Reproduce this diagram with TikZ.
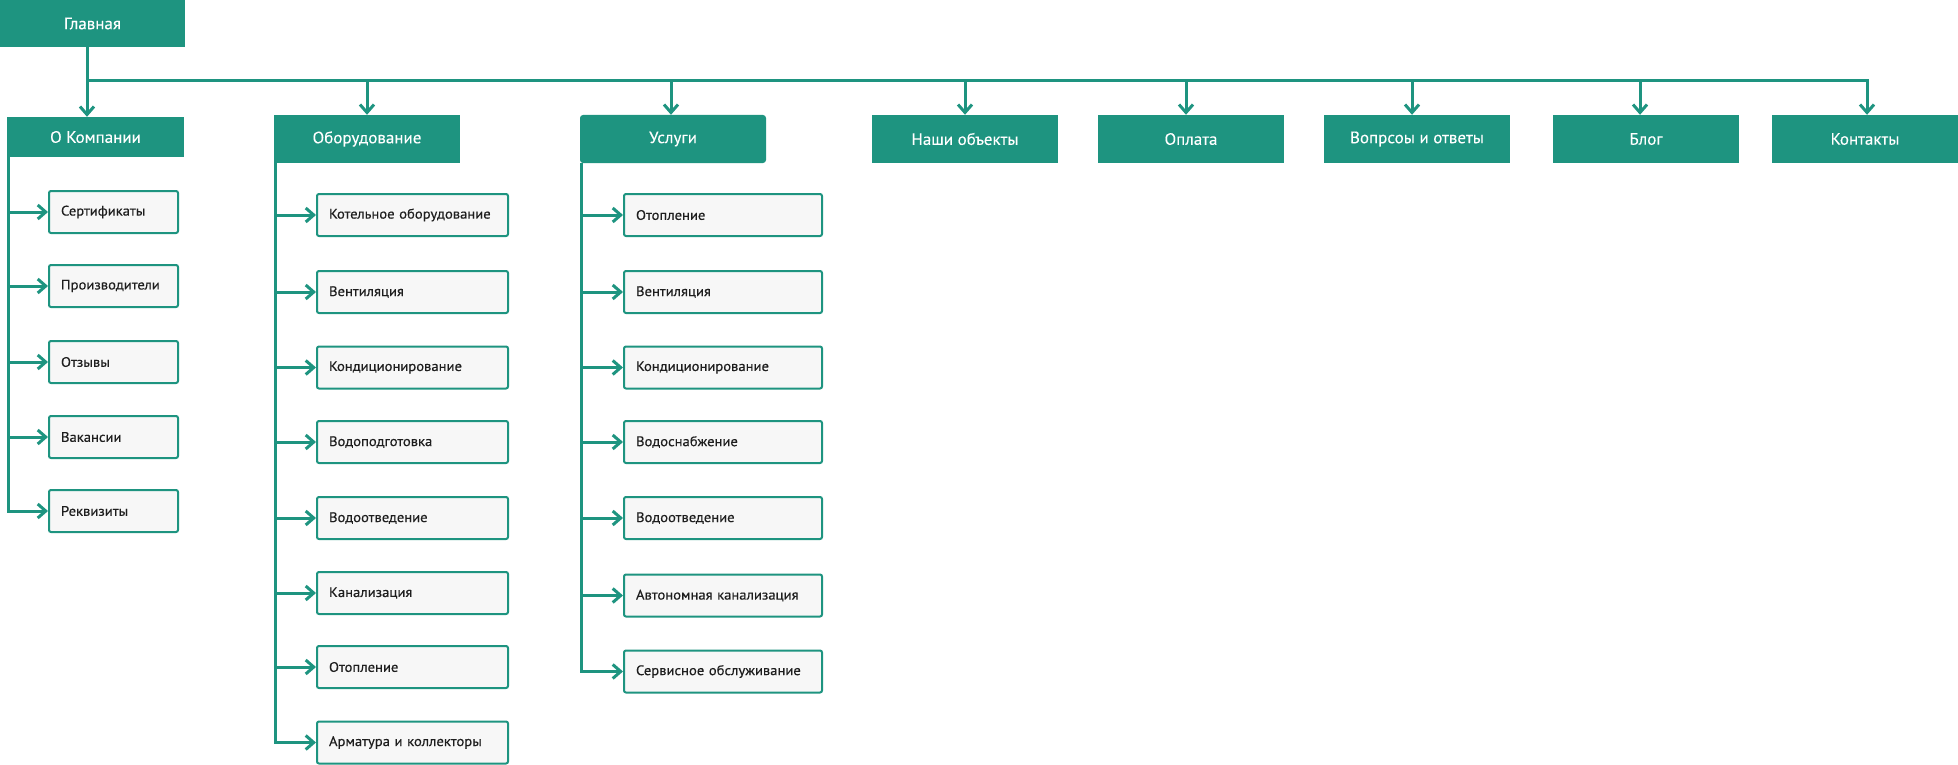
\documentclass[tikz,border=0pt]{standalone}
\usepackage{fontspec}
\setmainfont{PT Sans}
\newfontfamily\subfont[FakeStretch=1.06,FakeBold=0.4]{PT Sans}
\newfontfamily\topfont[FakeStretch=1.03,FakeBold=0.15]{PT Sans}
\usetikzlibrary{arrows.meta}
\definecolor{tealA}{RGB}{30,148,128}
\definecolor{subfill}{RGB}{247,247,247}
\definecolor{darktext}{RGB}{30,30,30}
\tikzset{
  topbox/.style={fill=tealA, text=white, minimum width=186, minimum height=48, inner sep=0,
    font=\topfont\fontsize{16.5}{19}\selectfont},
  subbox/.style={draw=tealA, line width=2, fill=subfill, rounded corners=2, minimum height=42,
    inner xsep=12, inner ysep=0, align=left, text=darktext, font=\subfont\fontsize{13.8}{16}\selectfont},
  subA/.style={subbox, text width=105},
  subB/.style={subbox, text width=167},
  subC/.style={subbox, text width=174},
  conn/.style={draw=tealA, line width=3},
  arr/.style={conn, -{Straight Barb[length=8,width=14]}},
}
\begin{document}
\begin{tikzpicture}[x=1pt,y=-1pt]
\useasboundingbox (0,0) rectangle (1958,765);
% top level
\node[topbox, minimum width=185, minimum height=47] (glav) at (92.5,23.5) {Главная};
\node[topbox, minimum width=177, minimum height=40] (komp) at (95.5,137) {О Компании};
\node[topbox] (obor) at (367,139) {Оборудование};
\node[topbox, rounded corners=3] (usl) at (673,139) {Услуги};
\node[topbox] (obj) at (965,139) {Наши объекты};
\node[topbox] (opl) at (1191,139) {Оплата};
\node[topbox] (faq) at (1417,139) {Вопрсоы и ответы};
\node[topbox] (blog) at (1646,139) {Блог};
\node[topbox] (kont) at (1865,139) {Контакты};
% hub connectors
\coordinate (hub) at (87,81);
\draw[arr] (glav.south -| hub) -- (hub |- komp.north);
\draw[arr] (hub) -| ([xshift=2]kont.north);
\draw[arr] (hub -| obor.north) -- (obor.north);
\draw[arr] ([xshift=-2]hub -| usl.north) -- ([xshift=-2]usl.north);
\draw[arr] (hub -| obj.north) -- (obj.north);
\draw[arr] ([xshift=-5]hub -| opl.north) -- ([xshift=-5]opl.north);
\draw[arr] ([xshift=-5]hub -| faq.north) -- ([xshift=-5]faq.north);
\draw[arr] ([xshift=-6]hub -| blog.north) -- ([xshift=-6]blog.north);
% О Компании children
\node[subA] (k1) at (113.5,212) {Сертификаты};
\node[subA] (k2) at (113.5,286) {Производители};
\node[subA] (k3) at (113.5,362) {Отзывы};
\node[subA] (k4) at (113.5,437) {Вакансии};
\node[subA] (k5) at (113.5,511) {Реквизиты};
\coordinate (kv) at ([xshift=1.5]komp.south west);
\draw[arr] (kv) |- (k5.west);
\foreach \n in {k1,k2,k3,k4}{\draw[arr] (kv |- \n.west) -- (\n.west);}
% Оборудование children
\node[subB] (o1) at (412.5,215) {Котельное оборудование};
\node[subB] (o2) at (412.5,292) {Вентиляция};
\node[subB] (o3) at (412.5,367.5) {Кондиционирование};
\node[subB] (o4) at (412.5,442) {Водоподготовка};
\node[subB] (o5) at (412.5,518) {Водоотведение};
\node[subB] (o6) at (412.5,593) {Канализация};
\node[subB] (o7) at (412.5,667) {Отопление};
\node[subB] (o8) at (412.5,742.5) {Арматура и коллекторы};
\coordinate (ov) at ([xshift=1.5]obor.south west);
\draw[arr] (ov) |- (o8.west);
\foreach \n in {o1,o2,o3,o4,o5,o6,o7}{\draw[arr] (ov |- \n.west) -- (\n.west);}
% Услуги children
\node[subC] (u1) at (723,215) {Отопление};
\node[subC] (u2) at (723,292) {Вентиляция};
\node[subC] (u3) at (723,367.5) {Кондиционирование};
\node[subC] (u4) at (723,442) {Водоснабжение};
\node[subC] (u5) at (723,518) {Водоотведение};
\node[subC] (u6) at (723,595.5) {Автономная канализация};
\node[subC] (u7) at (723,671.5) {Сервисное обслуживание};
\coordinate (uv) at ([xshift=2]usl.south west);
\draw[arr] (uv) |- (u7.west);
\foreach \n in {u1,u2,u3,u4,u5,u6}{\draw[arr] (uv |- \n.west) -- (\n.west);}
\end{tikzpicture}
\end{document}
